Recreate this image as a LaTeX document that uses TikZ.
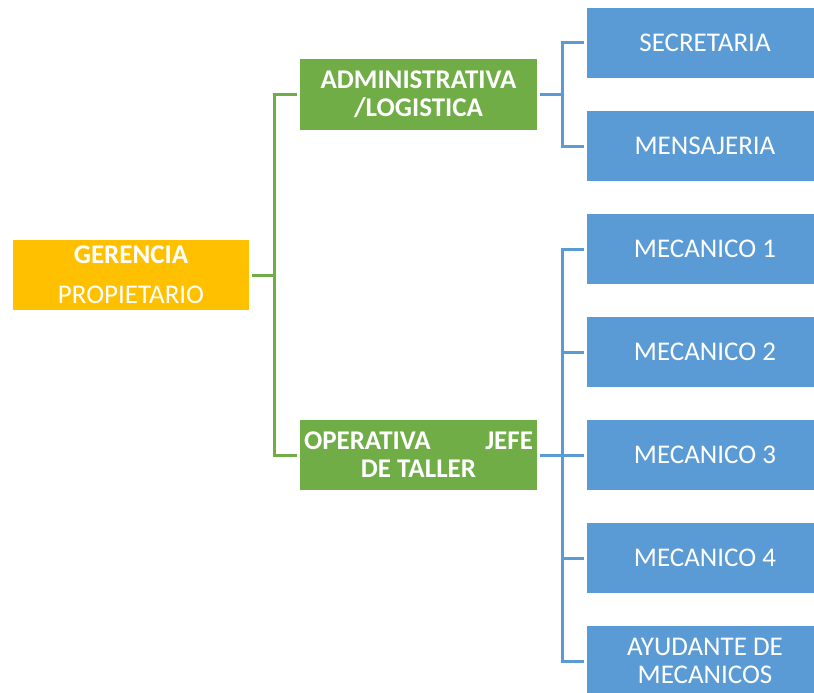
\documentclass[tikz,border=0pt]{standalone}
\usepackage{fontspec}
\setmainfont{Carlito}
\definecolor{cgreen}{HTML}{70AD47}
\definecolor{cblue}{HTML}{5B9BD5}
\definecolor{corange}{HTML}{FFC000}
\begin{document}
\begin{tikzpicture}[x=1pt,y=-1pt,
  box/.style={inner sep=0pt, minimum width=236pt, minimum height=70pt, text=white, align=center,
    font=\fontsize{27}{28.2}\selectfont},
  gbox/.style={box, fill=cgreen, font=\fontsize{27}{28.2}\selectfont\bfseries},
  bbox/.style={box, fill=cblue},
  obox/.style={box, fill=corange},
  gline/.style={draw=cgreen, line width=3pt, shorten <=3pt},
  bline/.style={draw=cblue, line width=3pt, shorten <=3pt}]
\useasboundingbox (0,0) rectangle (814,693);
\clip (0,0) rectangle (814,693);
\node[obox] (ger) at (131,275) {\textbf{GERENCIA}\\[11.8pt]PROPIETARIO};
\node[gbox, minimum width=237pt] (adm) at (418.5,94.5) {ADMINISTRATIVA\\/LOGISTICA};
\node[gbox, minimum width=237pt] (op) at (418.5,455) {\makebox[229pt][s]{OPERATIVA\hfill JEFE}\\DE TALLER};
\node[bbox] (sec) at (705,43) {SECRETARIA};
\node[bbox] (men) at (705,146) {MENSAJERIA};
\node[bbox] (m1) at (705,249) {MECANICO 1};
\node[bbox] (m2) at (705,352) {MECANICO 2};
\node[bbox] (m3) at (705,455) {MECANICO 3};
\node[bbox] (m4) at (705,558) {MECANICO 4};
\node[bbox] (ayu) at (705,661) {AYUDANTE DE\\MECANICOS};
\coordinate (gj) at (274.5,275);
\coordinate (bj1) at (562.5,94.5);
\coordinate (bj2) at (562.5,455);
\draw[gline] (ger.east) -- (gj);
\draw[gline] (adm.west) -| (gj);
\draw[gline] (op.west) -| (gj);
\draw[bline] (adm.east) -- (bj1);
\draw[bline] (sec.west) -| (bj1);
\draw[bline] (men.west) -| (bj1);
\draw[bline] (op.east) -- (bj2);
\draw[bline] (m1.west) -| (bj2);
\draw[bline] (m2.west) -| (bj2);
\draw[bline] (m3.west) -- (bj2);
\draw[bline] (m4.west) -| (bj2);
\draw[bline] (ayu.west) -| (bj2);
\end{tikzpicture}
\end{document}
